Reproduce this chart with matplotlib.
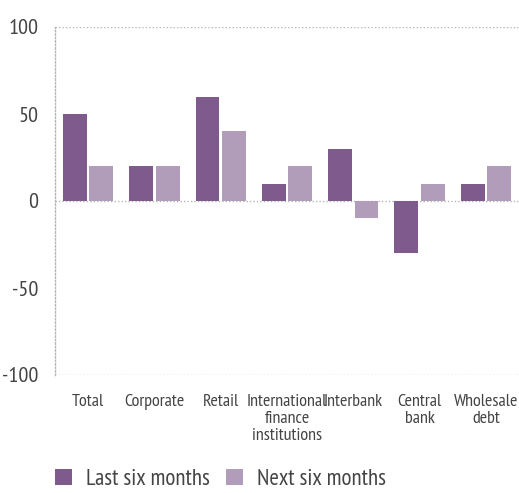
import matplotlib
matplotlib.use("Agg")
import matplotlib.pyplot as plt
import numpy as np

categories = ["Total", "Corporate", "Retail", "International\nfinance\ninstitutions",
              "Interbank", "Central\nbank", "Wholesale\ndebt"]
last_six = [50, 20, 60, 10, 30, -30, 10]
next_six = [20, 20, 40, 20, -10, 10, 20]
y_ticks = [-100, -50, 0, 50, 100]

dark = "#7f5a8c"
light = "#b19cb9"
txt = "#444444"

plt.rcParams['font.family'] = ['PT Sans Narrow', 'Roboto Condensed', 'Open Sans Condensed', 'DejaVu Sans']

fig = plt.figure(figsize=(5.19, 4.93), dpi=100)
ax = fig.add_axes([55 / 519, 1 - 375 / 493, 464 / 519, 348 / 493])

x = np.arange(len(categories))
w = 0.36
ax.bar(x - 0.2, last_six, width=w, color=dark, label="Last six months", zorder=3)
ax.bar(x + 0.2, next_six, width=w, color=light, label="Next six months", zorder=3)

ax.set_xlim(-0.5, len(categories) - 0.5)
ax.set_ylim(-100, 100)
ax.set_yticks(y_ticks)
ax.set_yticklabels([str(v) for v in y_ticks], fontsize=16, color=txt)
ax.set_xticks(x)
ax.set_xticklabels(categories, fontsize=13, color=txt, linespacing=1.05)
ax.tick_params(length=0)
ax.tick_params(axis='y', pad=12)
ax.tick_params(axis='x', pad=14)

for v in [100, 0, -100]:
    ax.axhline(v, color="#b5b5b5", linestyle=(0, (1, 1.5)), linewidth=1, zorder=1)

for s in ["top", "right", "bottom"]:
    ax.spines[s].set_visible(False)
ax.spines["left"].set_linestyle((0, (1, 1.5)))
ax.spines["left"].set_color("#b5b5b5")
ax.spines["left"].set_linewidth(1)

leg = fig.legend(loc="lower left", bbox_to_anchor=(55 / 519, 3 / 493), ncol=2, frameon=False,
                 fontsize=16.5, borderpad=0, borderaxespad=0, handlelength=0.75, handleheight=0.75,
                 handletextpad=0.6, columnspacing=0.7)
for t in leg.get_texts():
    t.set_color(txt)

fig.savefig("out.png", dpi=100)
